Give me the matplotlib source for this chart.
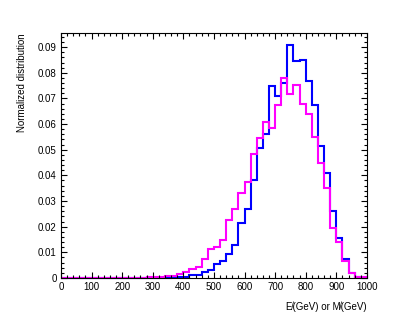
import numpy as np
import matplotlib
matplotlib.use("Agg")
import matplotlib.pyplot as plt
from matplotlib.ticker import MultipleLocator, FuncFormatter

plt.rcParams['font.family'] = ['Liberation Sans', 'DejaVu Sans']

# 20 GeV bins from 0 to 1000
bin_edges = np.arange(0, 1001, 20)

blue_vals = [0, 0, 0, 0, 0, 0, 0, 0, 0, 0,
             0, 0, 0, 0, 0, 0, 0, 0.0001, 0.0002, 0.0003,
             0.0005, 0.0012, 0.0012, 0.0025, 0.0031, 0.0055, 0.0068, 0.0095, 0.0130, 0.0216,
             0.0267, 0.0380, 0.0505, 0.0563, 0.0748, 0.0711, 0.0762, 0.0909, 0.0847, 0.0849,
             0.0768, 0.0675, 0.0515, 0.0410, 0.0262, 0.0154, 0.0074, 0.0018, 0.0005, 0.0001]

magenta_vals = [0, 0, 0, 0, 0, 0, 0, 0, 0, 0,
                0, 0, 0.0001, 0.0001, 0.0002, 0.0003, 0.0003, 0.0008, 0.0008, 0.0016,
                0.0022, 0.0034, 0.0041, 0.0074, 0.0113, 0.0120, 0.0149, 0.0227, 0.0267, 0.0330,
                0.0376, 0.0482, 0.0544, 0.0610, 0.0583, 0.0676, 0.0778, 0.0717, 0.0754, 0.0680,
                0.0640, 0.0549, 0.0448, 0.0349, 0.0193, 0.0141, 0.0068, 0.0018, 0.0005, 0.0002]

fig = plt.figure(figsize=(4.09, 3.27), dpi=100)
ax = fig.add_axes([0.149, 0.150, 0.748, 0.749])

ax.stairs(blue_vals, bin_edges, color='#0000ff', lw=1.5, clip_on=False)
ax.stairs(magenta_vals, bin_edges, color='#ff00ff', lw=1.5, clip_on=False)

ax.set_xlim(0, 1000)
ax.set_ylim(0, 0.0955)

ax.xaxis.set_major_locator(MultipleLocator(100))
ax.xaxis.set_minor_locator(MultipleLocator(20))
ax.yaxis.set_major_locator(MultipleLocator(0.01))
ax.yaxis.set_minor_locator(MultipleLocator(0.002))
ax.yaxis.set_major_formatter(FuncFormatter(lambda v, p: '0' if abs(v) < 1e-9 else '%g' % round(v, 3)))

ax.tick_params(which='both', direction='in', top=True, right=True, labelsize=7, width=0.8)
ax.tick_params(which='major', length=4.5, pad=3)
ax.tick_params(which='minor', length=2.3)
for s in ax.spines.values():
    s.set_linewidth(0.8)

ax.set_ylabel('Normalized distribution', fontsize=7, loc='top', labelpad=8)
ax.set_xlabel('E\u0338(GeV) or M\u0338(GeV)', fontsize=7, loc='right', labelpad=7)

fig.savefig('out.png', dpi=100)
